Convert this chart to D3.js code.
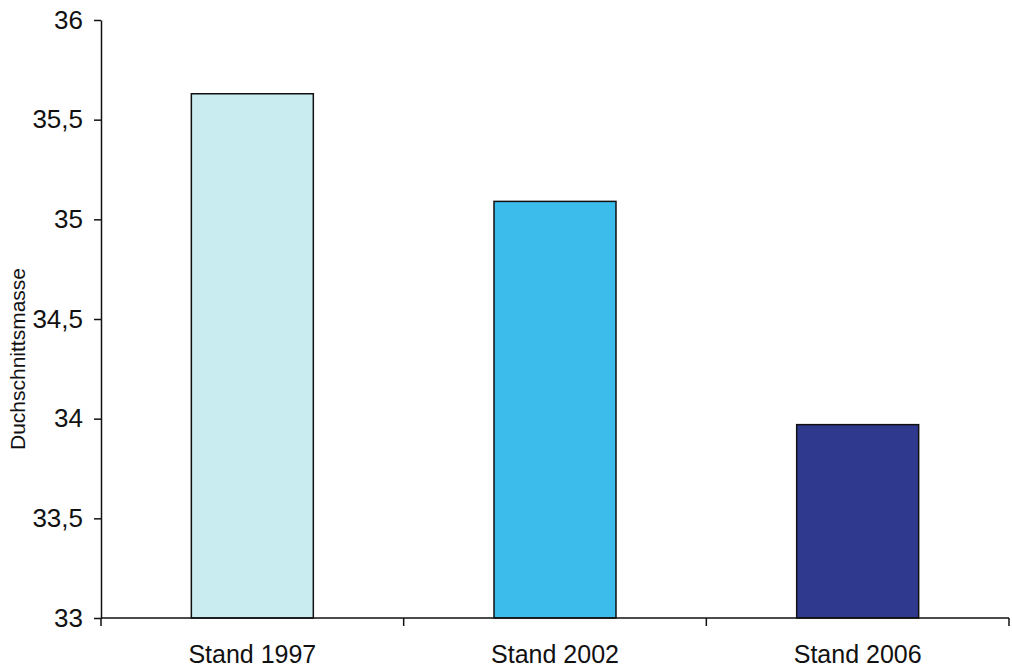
<!DOCTYPE html>
<html>
<head>
<meta charset="utf-8">
<script src="https://cdn.jsdelivr.net/npm/d3@7"></script>
<style>
  html, body { margin: 0; padding: 0; background: #fff; }
  svg { display: block; }
  text { font-family: "Liberation Sans", Arial, sans-serif; fill: #111; }
</style>
</head>
<body>
<svg id="chart" width="1012" height="667"></svg>
<script>
// Average values per survey year
const categories = ["Stand 1997", "Stand 2002", "Stand 2006"];
const values = [35.63, 35.09, 33.97];
const barColors = ["#c9ecf1", "#3bbcea", "#2f3a8e"];
const yTicks = [33, 33.5, 34, 34.5, 35, 35.5, 36];
const yTitle = "Duchschnittsmasse";

const svg = d3.select("#chart");
const plotLeft = 101, plotRight = 1009, plotTop = 20, plotBottom = 618;

const x = d3.scaleBand().domain(categories).range([plotLeft, plotRight]).paddingInner(0.597).paddingOuter(0.2985);
const y = d3.scaleLinear().domain([33, 36]).range([plotBottom, plotTop]);

const fmt = d => d3.format(".1~f")(d).replace(".", ",");

// Bars
svg.append("g")
  .selectAll("rect")
  .data(values)
  .join("rect")
  .attr("x", (d, i) => x(categories[i]))
  .attr("y", d => y(d))
  .attr("width", x.bandwidth())
  .attr("height", d => y(33) - y(d))
  .attr("fill", (d, i) => barColors[i])
  .attr("stroke", "#111")
  .attr("stroke-width", 1.5);

// Y axis
const yAxis = svg.append("g")
  .attr("transform", `translate(${plotLeft},0)`)
  .call(d3.axisLeft(y).tickValues(yTicks).tickFormat(fmt).tickSize(7).tickPadding(11).tickSizeOuter(0));
yAxis.select(".domain").attr("stroke", "#111").attr("stroke-width", 1.5);
yAxis.selectAll(".tick line").attr("stroke", "#111").attr("stroke-width", 1.5);
yAxis.selectAll(".tick text").attr("font-size", 26).attr("font-family", "Liberation Sans, Arial, sans-serif").attr("fill", "#111");

// X axis: category boundaries carry the tick marks
const xAxisG = svg.append("g").attr("transform", `translate(0,${plotBottom})`);
xAxisG.append("line")
  .attr("x1", plotLeft).attr("x2", plotRight)
  .attr("stroke", "#111").attr("stroke-width", 1.5);
const boundaries = d3.range(categories.length + 1).map(i => plotLeft + i * (plotRight - plotLeft) / categories.length);
xAxisG.selectAll("line.tk")
  .data(boundaries)
  .join("line")
  .attr("class", "tk")
  .attr("x1", d => d).attr("x2", d => d)
  .attr("y1", 0).attr("y2", 8)
  .attr("stroke", "#111").attr("stroke-width", 1.5);
xAxisG.selectAll("text")
  .data(categories)
  .join("text")
  .attr("x", d => x(d) + x.bandwidth() / 2)
  .attr("y", 45)
  .attr("text-anchor", "middle")
  .attr("font-size", 25)
  .text(d => d);

// Y axis title
svg.append("text")
  .attr("transform", `translate(25,359) rotate(-90)`)
  .attr("text-anchor", "middle")
  .attr("font-size", 21)
  .text(yTitle);
</script>
</body>
</html>
